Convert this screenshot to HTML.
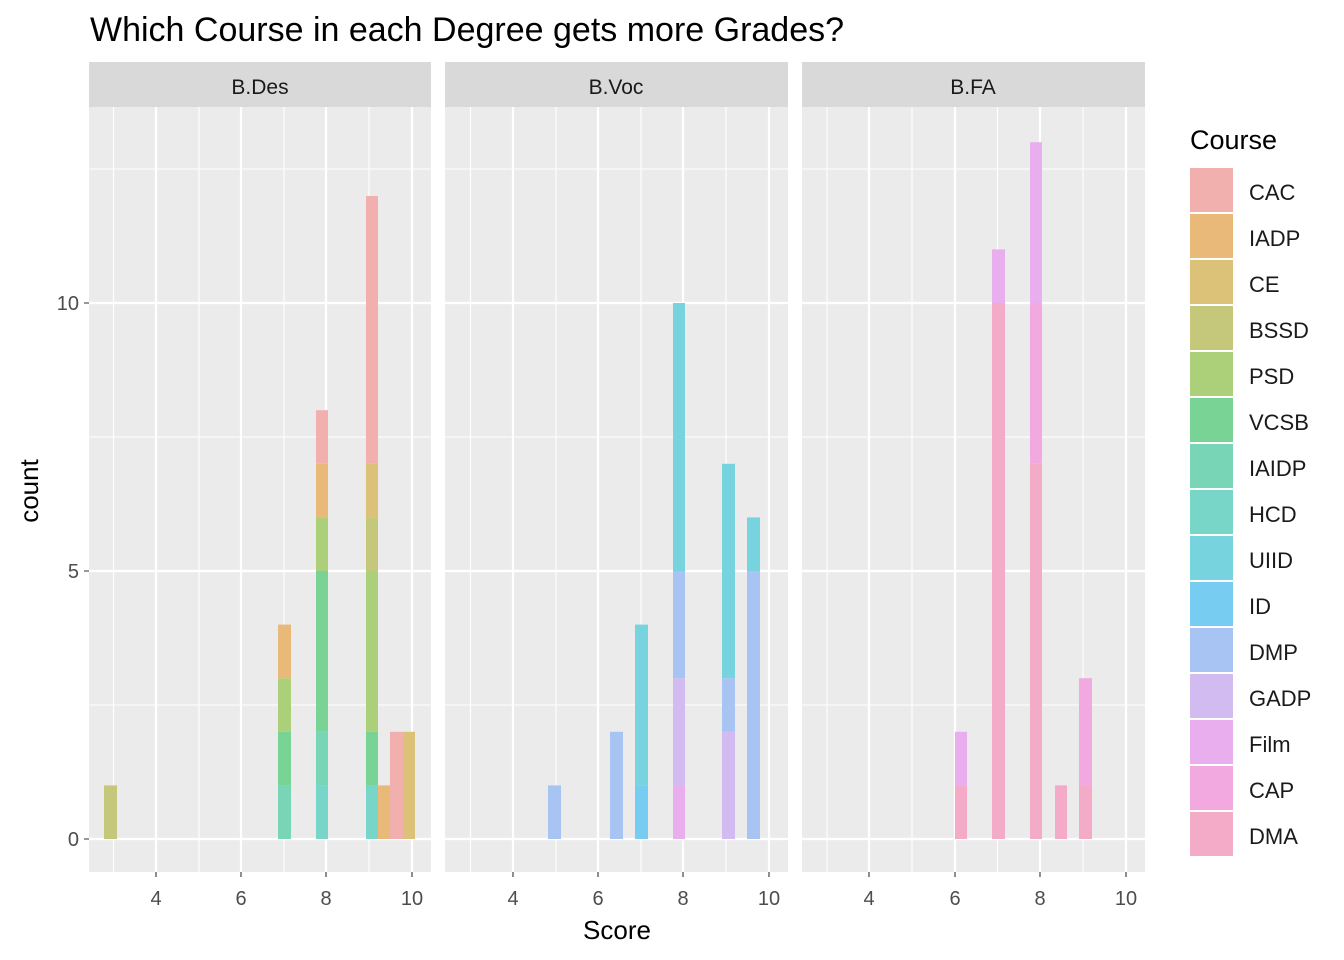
<!DOCTYPE html>
<html><head><style>body{margin:0;background:#fff}svg{display:block;font-family:"Liberation Sans",Arial,sans-serif}</style></head><body>
<svg width="1344" height="960" xmlns="http://www.w3.org/2000/svg">
<rect width="1344" height="960" fill="#fff"/>
<text x="90" y="41" font-size="34" fill="#000">Which Course in each Degree gets more Grades?</text>
<g id="panels">
<rect x="89" y="107" width="342" height="765" fill="#ebebeb"/>
<rect x="445" y="107" width="343" height="765" fill="#ebebeb"/>
<rect x="802" y="107" width="343" height="765" fill="#ebebeb"/>
<rect x="89" y="62" width="342" height="45" fill="#d9d9d9"/>
<rect x="445" y="62" width="343" height="45" fill="#d9d9d9"/>
<rect x="802" y="62" width="343" height="45" fill="#d9d9d9"/>
<text x="260" y="94" font-size="21" text-anchor="middle" fill="#1a1a1a">B.Des</text>
<text x="616" y="94" font-size="21" text-anchor="middle" fill="#1a1a1a">B.Voc</text>
<text x="973" y="94" font-size="21" text-anchor="middle" fill="#1a1a1a">B.FA</text>
<g stroke="#fff" stroke-width="1.1">
<path d="M89 705H431M89 437H431M89 169H431M445 705H788M445 437H788M445 169H788M802 705H1145M802 437H1145M802 169H1145"/>
<path d="M113.5 107V872M199 107V872M284 107V872M369 107V872M470.5 107V872M556 107V872M641 107V872M726 107V872M827 107V872M912 107V872M997.5 107V872M1083 107V872"/>
</g>
<g stroke="#fff" stroke-width="2.2">
<path d="M89 839H431M89 571H431M89 303H431M445 839H788M445 571H788M445 303H788M802 839H1145M802 571H1145M802 303H1145"/>
<path d="M156 107V872M241 107V872M326 107V872M412 107V872M513 107V872M598 107V872M683 107V872M769 107V872M869 107V872M955 107V872M1040 107V872M1126 107V872"/>
</g>
</g>
<g id="bars">
<rect x="104" y="785.4" width="13" height="53.6" fill="#c5c77b"/>
<rect x="278" y="785.4" width="13" height="53.6" fill="#78d6b6"/>
<rect x="278" y="731.8" width="13" height="53.6" fill="#79d395"/>
<rect x="278" y="678.2" width="13" height="53.6" fill="#acd07a"/>
<rect x="278" y="624.6" width="13" height="53.6" fill="#e8b978"/>
<rect x="316" y="785.4" width="12" height="53.6" fill="#78d6c9"/>
<rect x="316" y="731.8" width="12" height="53.6" fill="#78d6b6"/>
<rect x="316" y="571" width="12" height="160.8" fill="#79d395"/>
<rect x="316" y="517.4" width="12" height="53.6" fill="#acd07a"/>
<rect x="316" y="463.8" width="12" height="53.6" fill="#e8b978"/>
<rect x="316" y="410.2" width="12" height="53.6" fill="#f1b0ad"/>
<rect x="366" y="785.4" width="12" height="53.6" fill="#78d6c9"/>
<rect x="366" y="731.8" width="12" height="53.6" fill="#79d395"/>
<rect x="366" y="571" width="12" height="160.8" fill="#acd07a"/>
<rect x="366" y="517.4" width="12" height="53.6" fill="#c5c77b"/>
<rect x="366" y="463.8" width="12" height="53.6" fill="#dcc279"/>
<rect x="366" y="196" width="12" height="267.8" fill="#f1b0ad"/>
<rect x="378" y="785.4" width="12" height="53.6" fill="#e8b978"/>
<rect x="390" y="731.8" width="13" height="107.2" fill="#f1b0ad"/>
<rect x="403" y="731.8" width="12" height="107.2" fill="#dcc279"/>
<rect x="548" y="785.4" width="13" height="53.6" fill="#a7c4f3"/>
<rect x="610" y="731.8" width="13" height="107.2" fill="#a7c4f3"/>
<rect x="635" y="785.4" width="13" height="53.6" fill="#77cdf1"/>
<rect x="635" y="624.6" width="13" height="160.8" fill="#77d4de"/>
<rect x="673" y="785.4" width="12" height="53.6" fill="#e8aeee"/>
<rect x="673" y="678.2" width="12" height="107.2" fill="#d2bbf1"/>
<rect x="673" y="571" width="12" height="107.2" fill="#a7c4f3"/>
<rect x="673" y="303" width="12" height="268" fill="#77d4de"/>
<rect x="722" y="731.8" width="13" height="107.2" fill="#d2bbf1"/>
<rect x="722" y="678.2" width="13" height="53.6" fill="#a7c4f3"/>
<rect x="722" y="463.8" width="13" height="214.4" fill="#77d4de"/>
<rect x="747" y="571" width="13" height="268" fill="#a7c4f3"/>
<rect x="747" y="517.4" width="13" height="53.6" fill="#77d4de"/>
<rect x="955" y="785.4" width="12" height="53.6" fill="#f3abc7"/>
<rect x="955" y="731.8" width="12" height="53.6" fill="#e8aeee"/>
<rect x="992" y="303" width="13" height="536" fill="#f3abc7"/>
<rect x="992" y="249.4" width="13" height="53.6" fill="#e8aeee"/>
<rect x="1030" y="463.8" width="12" height="375.2" fill="#f3abc7"/>
<rect x="1030" y="303" width="12" height="160.8" fill="#f1a9e0"/>
<rect x="1030" y="142.2" width="12" height="160.8" fill="#e8aeee"/>
<rect x="1055" y="785.4" width="12" height="53.6" fill="#f3abc7"/>
<rect x="1079" y="785.4" width="13" height="53.6" fill="#f3abc7"/>
<rect x="1079" y="678.2" width="13" height="107.2" fill="#f1a9e0"/>
</g>
<g stroke="#333" stroke-width="1.1">
<path d="M84 839H89M84 571H89M84 303H89"/>
<path d="M156 872V877M241 872V877M326 872V877M412 872V877M513 872V877M598 872V877M683 872V877M769 872V877M869 872V877M955 872V877M1040 872V877M1126 872V877"/>
</g>
<g font-size="20" fill="#4d4d4d" text-anchor="end">
<text x="79" y="846">0</text><text x="79" y="578">5</text><text x="79" y="310">10</text>
</g>
<g font-size="20" fill="#4d4d4d" text-anchor="middle">
<text x="156" y="905">4</text><text x="241" y="905">6</text><text x="326" y="905">8</text><text x="412" y="905">10</text>
<text x="513" y="905">4</text><text x="598" y="905">6</text><text x="683" y="905">8</text><text x="769" y="905">10</text>
<text x="869" y="905">4</text><text x="955" y="905">6</text><text x="1040" y="905">8</text><text x="1126" y="905">10</text>
</g>
<text x="617" y="939" font-size="26" text-anchor="middle" fill="#000">Score</text>
<text transform="translate(38,491) rotate(-90)" font-size="26" text-anchor="middle" fill="#000">count</text>
<text x="1190" y="149" font-size="27" fill="#000">Course</text>
<g font-size="22" fill="#1a1a1a">
<rect x="1190" y="168" width="43" height="44" fill="#f1b0ad"/><text x="1249" y="200">CAC</text>
<rect x="1190" y="214" width="43" height="44" fill="#e8b978"/><text x="1249" y="246">IADP</text>
<rect x="1190" y="260" width="43" height="44" fill="#dcc279"/><text x="1249" y="292">CE</text>
<rect x="1190" y="306" width="43" height="44" fill="#c5c77b"/><text x="1249" y="338">BSSD</text>
<rect x="1190" y="352" width="43" height="44" fill="#acd07a"/><text x="1249" y="384">PSD</text>
<rect x="1190" y="398" width="43" height="44" fill="#79d395"/><text x="1249" y="430">VCSB</text>
<rect x="1190" y="444" width="43" height="44" fill="#78d6b6"/><text x="1249" y="476">IAIDP</text>
<rect x="1190" y="490" width="43" height="44" fill="#78d6c9"/><text x="1249" y="522">HCD</text>
<rect x="1190" y="536" width="43" height="44" fill="#77d4de"/><text x="1249" y="568">UIID</text>
<rect x="1190" y="582" width="43" height="44" fill="#77cdf1"/><text x="1249" y="614">ID</text>
<rect x="1190" y="628" width="43" height="44" fill="#a7c4f3"/><text x="1249" y="660">DMP</text>
<rect x="1190" y="674" width="43" height="44" fill="#d2bbf1"/><text x="1249" y="706">GADP</text>
<rect x="1190" y="720" width="43" height="44" fill="#e8aeee"/><text x="1249" y="752">Film</text>
<rect x="1190" y="766" width="43" height="44" fill="#f1a9e0"/><text x="1249" y="798">CAP</text>
<rect x="1190" y="812" width="43" height="44" fill="#f3abc7"/><text x="1249" y="844">DMA</text>
</g>
</svg>
</body></html>
